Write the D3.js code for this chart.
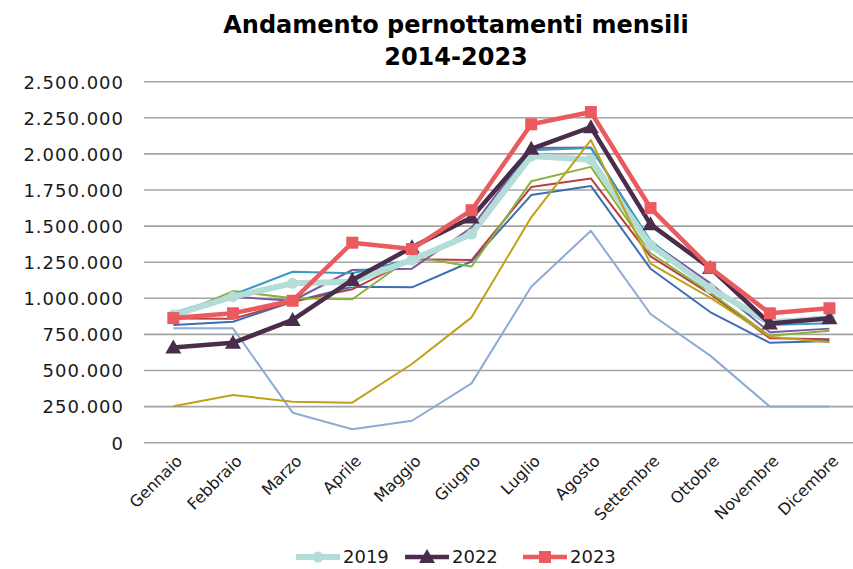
<!DOCTYPE html>
<html><head><meta charset="utf-8">
<script src="https://cdn.jsdelivr.net/npm/d3@7"></script>
<style>
html,body{margin:0;padding:0;background:#fff;}
svg{display:block;font-family:"DejaVu Sans",sans-serif;}
</style></head>
<body><svg id="chart" width="853" height="569"></svg>
<script>
const months = ["Gennaio","Febbraio","Marzo","Aprile","Maggio","Giugno","Luglio","Agosto","Settembre","Ottobre","Novembre","Dicembre"];
const yTicks = [0,250000,500000,750000,1000000,1250000,1500000,1750000,2000000,2250000,2500000];
const years = ["2014","2015","2016","2017","2018","2019","2020","2021","2022","2023"];
const y2014 = [815000, 838000, 976000, 1080000, 1076000, 1255000, 1715000, 1778000, 1205000, 905000, 692000, 705000];
const y2015 = [860000, 858000, 976000, 1062000, 1270000, 1265000, 1770000, 1830000, 1290000, 1030000, 723000, 716000];
const y2016 = [875000, 1050000, 1000000, 993000, 1288000, 1220000, 1810000, 1910000, 1312000, 1040000, 740000, 775000];
const y2017 = [870000, 1010000, 983000, 1196000, 1205000, 1490000, 2040000, 2045000, 1392000, 1105000, 765000, 790000];
const y2018 = [900000, 1025000, 1184000, 1173000, 1270000, 1450000, 2025000, 2040000, 1400000, 1060000, 815000, 827000];
const y2019 = [884000, 1011000, 1104000, 1115000, 1265000, 1445000, 1985000, 1960000, 1369000, 1069000, 835000, 862000];
const y2020 = [792000, 792000, 208000, 93000, 152000, 411000, 1080000, 1468000, 891000, 603000, 250000, 250000];
const y2021 = [252000, 330000, 284000, 277000, 545000, 868000, 1561000, 2096000, 1240000, 1005000, 734000, 695000];
const y2022 = [660000, 692000, 850000, 1127000, 1353000, 1560000, 2035000, 2185000, 1512000, 1210000, 825000, 862000];
const y2023 = [863000, 896000, 983000, 1385000, 1341000, 1610000, 2205000, 2290000, 1625000, 1212000, 896000, 931000];
const legendYears = ["2019","2022","2023"];

const seriesValues = [y2014,y2015,y2016,y2017,y2018,y2019,y2020,y2021,y2022,y2023];
const styles = {
  "2014":{color:"#3d6db3",w:2},
  "2015":{color:"#b8403f",w:2},
  "2016":{color:"#8db03f",w:2},
  "2017":{color:"#7a5c9e",w:2},
  "2018":{color:"#379dbf",w:2},
  "2019":{color:"#b3ddd6",w:6,marker:"circle"},
  "2020":{color:"#8eaad3",w:2},
  "2021":{color:"#bfa11c",w:2},
  "2022":{color:"#4a2d4b",w:4.5,marker:"triangle"},
  "2023":{color:"#ea5a5f",w:4.5,marker:"square"}
};
const series = years.map((y,i)=>({year:y, values:seriesValues[i]}));

const svg = d3.select("#chart");
const x = d3.scaleBand().domain(months).range([143.5, 859.3]);
const y = d3.scaleLinear().domain([0,2500000]).range([442.7, 81.7]);
const loc = d3.formatLocale({decimal:",", thousands:".", grouping:[3], currency:["€",""]});
const fmt = loc.format(",d");

// gridlines
svg.append("g").selectAll("line").data(yTicks).join("line")
  .attr("x1",144).attr("x2",860)
  .attr("y1",d=>y(d)).attr("y2",d=>y(d))
  .attr("stroke","#a3a3a3").attr("stroke-width",1.6);

// y axis labels
const yAxis = d3.axisLeft(y).tickValues(yTicks).tickFormat(fmt).tickSize(0).tickPadding(0);
const ga = svg.append("g").attr("transform","translate(124,0)").call(yAxis);
ga.select(".domain").remove();
ga.selectAll("text").attr("font-size","18px").attr("fill","#1a1a1a")
  .attr("font-family","DejaVu Sans, sans-serif").attr("letter-spacing","1px").attr("dy","0.35em");

// x axis labels
svg.append("g").selectAll("text").data(months).join("text")
  .attr("transform",d=>`translate(${x(d)+x.bandwidth()/2+6},458) rotate(-45)`)
  .attr("text-anchor","end").attr("dy","0.35em")
  .attr("font-size","16px").attr("fill","#1a1a1a").text(d=>d);

const line = d3.line().x((d,i)=>x(months[i])+x.bandwidth()/2).y(d=>y(d));

const gl = svg.append("g");
function drawMarker(g, type, color, cx, cy){
  if(type==="circle") g.append("circle").attr("cx",cx).attr("cy",cy).attr("r",5.5).attr("fill",color);
  if(type==="square") g.append("rect").attr("x",cx-6).attr("y",cy-6).attr("width",12).attr("height",12).attr("fill",color);
  if(type==="triangle") g.append("path").attr("d",`M${cx},${cy-8} L${cx+8},${cy+6} L${cx-8},${cy+6} Z`).attr("fill",color);
}
series.forEach(s=>{
  const st = styles[s.year];
  const g = gl.append("g");
  g.append("path").datum(s.values).attr("d",line).attr("fill","none")
    .attr("stroke",st.color).attr("stroke-width",st.w).attr("stroke-linejoin","round");
  if(st.marker){
    s.values.forEach((v,i)=>drawMarker(g, st.marker, st.color, x(months[i])+x.bandwidth()/2, y(v)));
  }
});

// title
const title = svg.append("text").attr("x",456).attr("text-anchor","middle")
  .attr("font-weight","bold").attr("font-size","24px").attr("fill","#000");
title.append("tspan").attr("x",456).attr("y",33).text("Andamento pernottamenti mensili");
title.append("tspan").attr("x",456).attr("y",65).text("2014-2023");

// legend
const legX = {"2019":296,"2022":405,"2023":523};
const lg = svg.append("g");
legendYears.forEach(yr=>{
  const st = styles[yr];
  const lx = legX[yr], ly = 557;
  lg.append("line").attr("x1",lx).attr("x2",lx+44).attr("y1",ly).attr("y2",ly)
    .attr("stroke",st.color).attr("stroke-width",st.w);
  drawMarker(lg, st.marker, st.color, lx+22, ly);
  lg.append("text").attr("x",lx+47).attr("y",ly).attr("dy","0.35em")
    .attr("font-size","18px").attr("fill","#1a1a1a").text(yr);
});
</script></body></html>
